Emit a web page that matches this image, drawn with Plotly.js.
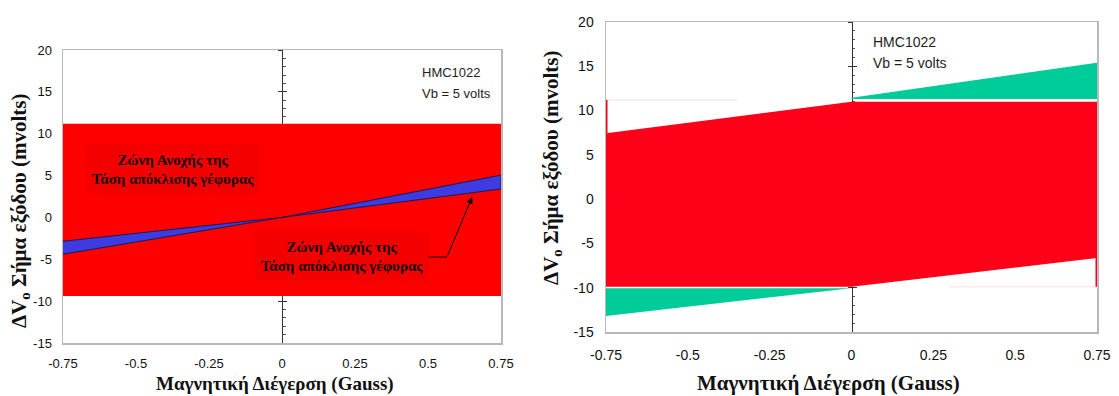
<!DOCTYPE html>
<html>
<head>
<meta charset="utf-8">
<script src="https://cdn.plot.ly/plotly-3.0.1.min.js"></script>
<style>html,body{margin:0;padding:0;background:#fff;}#chart{width:1119px;height:396px;}</style>
</head>
<body>
<div id="chart"></div>
<script>
// ---------- data ----------
const ticksX = [-0.75, -0.5, -0.25, 0, 0.25, 0.5, 0.75];
const tickLabelsX = ['-0.75', '-0.5', '-0.25', '0', '0.25', '0.5', '0.75'];
const ticksY = [-15, -10, -5, 0, 5, 10, 15, 20];
const tickLabelsY = ['-15', '-10', '-5', '0', '5', '10', '15', '20'];

// left chart
const bandX = [-0.75, 0.75];
const leftBandTop = [11.2, 11.2];
const leftBandBottom = [-9.4, -9.4];
const lineX = [-0.75, 0, 0.75];
const steepLine = [-4.4, 0.0, 5.05];
const shallowLine = [-2.85, 0.0, 3.4];

// right chart
const redTop = [7.45, 11.0, 11.0];
const redBottom = [-9.9, -9.9, -6.65];
const greenUpX = [0, 0.75];
const greenUpTop = [11.45, 15.4];
const greenUpBase = [11.3, 11.3];
const greenLowX = [-0.75, 0];
const greenLowTop = [-10.05, -10.05];
const greenLowBottom = [-13.2, -10.05];
const leftStripY = [7.45, 11.2];
const rightStripY = [-9.9, -6.65];

const labelText = '<b>Ζώνη Ανοχής της<br>Τάση απόκλισης γέφυρας</b>';
const yTitle = '<b>ΔV<sub>o</sub> Σήμα εξόδου (mvolts)</b>';
const xTitle = '<b>Μαγνητική Διέγερση (Gauss)</b>';

// ---------- helpers ----------
const W = 1119, H = 396;
const px = v => v / W;
const py = v => 1 - v / H;
const rev = a => a.slice().reverse();

const RED_L = '#ff0000', RED_R = '#ff0019', GREEN = '#00cc99', BLUE = '#3c3ce2';

const traces = [
  // left red band
  {x: bandX.concat(rev(bandX)), y: leftBandTop.concat(rev(leftBandBottom)), xaxis: 'x', yaxis: 'y',
   fill: 'toself', fillcolor: RED_L, mode: 'lines', line: {width: 0}, hoverinfo: 'skip'},
  // blue band
  {x: lineX.concat(rev(lineX)), y: steepLine.concat(rev(shallowLine)), xaxis: 'x', yaxis: 'y',
   fill: 'toself', fillcolor: BLUE, mode: 'lines', line: {width: 1, color: '#1b1b4a'}, hoverinfo: 'skip'},
  // arrow horizontal segment
  {x: [0.493, 0.565], y: [-4.73, -4.73], xaxis: 'x', yaxis: 'y', mode: 'lines',
   line: {width: 1, color: '#000'}, hoverinfo: 'skip'},

  // right green upper
  {x: greenUpX.concat(rev(greenUpX)), y: greenUpTop.concat(rev(greenUpBase)), xaxis: 'x2', yaxis: 'y2',
   fill: 'toself', fillcolor: GREEN, mode: 'lines', line: {width: 0}, hoverinfo: 'skip'},
  // right green lower
  {x: greenLowX.concat(rev(greenLowX)), y: greenLowTop.concat(rev(greenLowBottom)), xaxis: 'x2', yaxis: 'y2',
   fill: 'toself', fillcolor: GREEN, mode: 'lines', line: {width: 0}, hoverinfo: 'skip'},
  // right red polygon
  {x: lineX.concat(rev(lineX)), y: redTop.concat(rev(redBottom)), xaxis: 'x2', yaxis: 'y2',
   fill: 'toself', fillcolor: RED_R, mode: 'lines', line: {width: 0}, hoverinfo: 'skip'},
  // thin red edge strips
  {x: [-0.75, -0.75], y: leftStripY, xaxis: 'x2', yaxis: 'y2', mode: 'lines',
   line: {width: 3, color: RED_R}, hoverinfo: 'skip'},
  {x: [0.75, 0.75], y: rightStripY, xaxis: 'x2', yaxis: 'y2', mode: 'lines',
   line: {width: 3, color: RED_R}, hoverinfo: 'skip'},
  // faint edges
  {x: [-0.75, -0.35], y: [leftStripY[1], leftStripY[1]], xaxis: 'x2', yaxis: 'y2', mode: 'lines',
   line: {width: 1, color: 'rgba(255,0,25,0.15)'}, hoverinfo: 'skip'},
  {x: [0.3, 0.75], y: [rightStripY[0], rightStripY[0]], xaxis: 'x2', yaxis: 'y2', mode: 'lines',
   line: {width: 1, color: 'rgba(255,0,25,0.15)'}, hoverinfo: 'skip'},
];
// invisible anchors for the centre axes
['y3', 'y5'].forEach(a => traces.push({x: [0], y: [0], xaxis: 'x', yaxis: a, mode: 'markers',
  marker: {opacity: 0}, hoverinfo: 'skip'}));
['y4', 'y6'].forEach(a => traces.push({x: [0], y: [0], xaxis: 'x2', yaxis: a, mode: 'markers',
  marker: {opacity: 0}, hoverinfo: 'skip'}));

const tickFontL = {family: 'Liberation Sans, Arial, sans-serif', size: 13, color: '#111'};
const tickFontR = {family: 'Liberation Sans, Arial, sans-serif', size: 14, color: '#111'};
const FRAME = '#b8b8b8';

function xAx(dom, anchor, font, tl) {
  return {domain: dom, anchor: anchor, range: [-0.75, 0.75], tickvals: ticksX, ticktext: tickLabelsX,
    showline: true, mirror: true, linecolor: FRAME, linewidth: 1.5, showgrid: false, zeroline: false,
    ticks: 'outside', ticklen: tl, tickcolor: 'rgba(0,0,0,0)', tickfont: font, fixedrange: true};
}
function yAx(dom, anchor, font, tl) {
  return {domain: dom, anchor: anchor, range: [-15, 20], tickvals: ticksY, ticktext: tickLabelsY,
    showline: true, mirror: true, linecolor: FRAME, linewidth: 1.5, showgrid: false, zeroline: false,
    ticks: 'outside', ticklen: tl, tickcolor: 'rgba(0,0,0,0)', tickfont: font, fixedrange: true};
}
function centreAx(over, pos, inner) {
  const a = {overlaying: over, anchor: 'free', position: pos, range: [-15, 20], dtick: 5,
    showgrid: false, zeroline: false, showticklabels: false, layer: 'below traces',
    tickcolor: '#333', ticklen: 4, tickwidth: 1, fixedrange: true};
  if (inner) {
    a.showline = true; a.linecolor = '#333'; a.linewidth = 1.2; a.ticks = 'inside';
    a.minor = {ticks: 'inside', dtick: 1, ticklen: 2.5, tickcolor: '#555', tickwidth: 1};
  } else {
    a.showline = false; a.ticks = 'outside';
  }
  return a;
}

const domXL = [px(63), px(501)], domYL = [py(343), py(50)];
const domXR = [px(606), px(1097)], domYR = [py(332), py(22)];
const midL = (domXL[0] + domXL[1]) / 2, midR = (domXR[0] + domXR[1]) / 2;

const SERIF = 'Liberation Serif, Times New Roman, serif';
const boxFont = {family: SERIF, size: 15, color: '#140000'};
const noteFontL = {family: 'Liberation Sans, Arial, sans-serif', size: 13, color: '#1e1e1e'};
const noteFontR = {family: 'Liberation Sans, Arial, sans-serif', size: 14, color: '#1e1e1e'};
const titleFont = s => ({family: SERIF, size: s, color: '#111'});

const annotations = [
  {xref: 'x', yref: 'y', x: -0.373, y: 5.72, text: labelText, showarrow: false, width: 168, height: 47,
   bgcolor: '#f40000', font: boxFont, align: 'center', valign: 'middle', xanchor: 'center', yanchor: 'middle'},
  {xref: 'x', yref: 'y', x: 0.204, y: -4.67, text: labelText, showarrow: false, width: 170, height: 47,
   bgcolor: '#f40000', font: boxFont, align: 'center', valign: 'middle', xanchor: 'center', yanchor: 'middle'},
  {xref: 'x', yref: 'y', x: 0.651, y: 2.44, axref: 'x', ayref: 'y', ax: 0.565, ay: -4.73, text: '',
   showarrow: true, arrowhead: 2, arrowsize: 1.3, arrowwidth: 1, arrowcolor: '#000'},
  {xref: 'x', yref: 'y', x: 0.473, y: 17.37, text: 'HMC1022', showarrow: false, xanchor: 'left', yanchor: 'middle', font: noteFontL},
  {xref: 'x', yref: 'y', x: 0.473, y: 14.86, text: 'Vb = 5 volts', showarrow: false, xanchor: 'left', yanchor: 'middle', font: noteFontL},
  {xref: 'x2', yref: 'y2', x: 0.06, y: 17.74, text: 'HMC1022', showarrow: false, xanchor: 'left', yanchor: 'middle', font: noteFontR},
  {xref: 'x2', yref: 'y2', x: 0.06, y: 15.37, text: 'Vb = 5 volts', showarrow: false, xanchor: 'left', yanchor: 'middle', font: noteFontR},
  // axis titles
  {xref: 'paper', yref: 'paper', x: px(275), y: py(384), text: xTitle, showarrow: false,
   xanchor: 'center', yanchor: 'middle', font: titleFont(19)},
  {xref: 'paper', yref: 'paper', x: px(828), y: py(383), text: xTitle, showarrow: false,
   xanchor: 'center', yanchor: 'middle', font: titleFont(21)},
  {xref: 'paper', yref: 'paper', x: px(20), y: py(211), text: yTitle, textangle: -90, showarrow: false,
   xanchor: 'center', yanchor: 'middle', font: titleFont(21)},
  {xref: 'paper', yref: 'paper', x: px(552), y: py(168), text: yTitle, textangle: -90, showarrow: false,
   xanchor: 'center', yanchor: 'middle', font: titleFont(21)},
];

const layout = {
  width: W, height: H, margin: {l: 0, r: 0, t: 0, b: 0},
  paper_bgcolor: '#fff', plot_bgcolor: '#fff', showlegend: false, hovermode: false,
  xaxis: xAx(domXL, 'y', tickFontL, 8),
  yaxis: yAx(domYL, 'x', tickFontL, 7),
  xaxis2: xAx(domXR, 'y2', tickFontR, 10),
  yaxis2: yAx(domYR, 'x2', tickFontR, 8),
  yaxis3: centreAx('y', midL, true),
  yaxis5: centreAx('y', midL, false),
  yaxis4: centreAx('y2', midR, true),
  yaxis6: centreAx('y2', midR, false),
  annotations: annotations,
};

Plotly.newPlot('chart', traces, layout, {staticPlot: true, displayModeBar: false});
</script>
</body>
</html>
